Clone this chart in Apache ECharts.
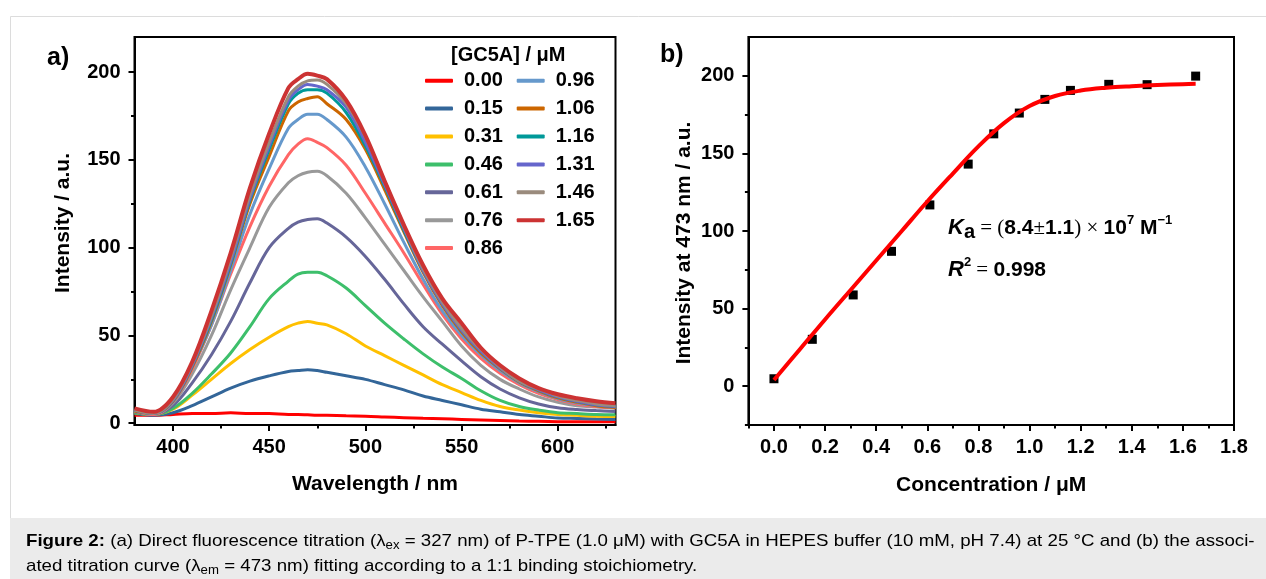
<!DOCTYPE html>
<html><head><meta charset="utf-8">
<style>html,body{margin:0;padding:0;background:#fff}#c{width:1266px;height:579px}</style>
<script src="https://cdn.jsdelivr.net/npm/echarts@6.0.0/dist/echarts.min.js"></script>
</head><body><div id="c"></div>
<script>
// ---------------- DATA ----------------
const wavelengths = [380,390,400,410,420,430,440,450,460,465,470,475,480,490,500,510,520,530,540,550,560,570,580,590,600,610,620,630];
const seriesNames = ['0.00','0.15','0.31','0.46','0.61','0.76','0.86','0.96','1.06','1.16','1.31','1.46','1.65'];
const seriesColors = ['#ff0000','#336699','#ffc000','#3dbf6b','#666699','#999999','#ff6666','#6699cc','#cc6600','#009999','#6666cc','#9a8b7d','#cc3333'];
const c000 = [4.5,4.5,5,5.5,5.5,6,5.5,5.5,5,5,4.8,4.6,4.5,4.2,4,3.6,3.2,2.8,2.5,2.2,1.9,1.6,1.3,1.1,0.9,0.8,0.8,0.8];
const c015 = [5.5,4.5,6,10,15,20,24,27,29.5,30,30.5,30,29,27,25,22,19,15.5,13,10.5,8,6.5,5,4,3,2.7,2.4,2.2];
const c031 = [6,5,8,16,25,34,42,49,55,57,58,57,56,51,44,38.5,33,27.5,22,17.5,13,9.5,7.5,6,5,4.5,4,3.8];
const c046 = [6,5,8.5,17,28,40,55,71,81,85,86,86,84,77,67,57,48,39.5,32,25.5,18.5,13,9.5,7.5,6,5.5,5,4.8];
const c061 = [6.5,5,10,23,39,58,80,100,111,114.5,116,116.5,114,106,95,82,68,55,45,35.5,26.5,19.5,14.5,11,8.8,7.8,7.2,6.7];
const c076 = [7,5,11.5,28,50,76,100,123,137,141,143,143.5,141,131,117,102,87,72,58,44,33,25,19.5,15,12,10,9.2,8.6];
const c086 = [7,5,12,31,56,85,112,135,153,159,162,160,157,147,131,114,97,79,62,48,37,28.5,22,17,13.5,11,9.5,8.8];
const c096 = [7,5.5,12,32,56,87,119,145,168,173,176,176,173,163,146,125,103,82,64,50,39,30,23,18,14,11.5,10,9];
const c106 = [7,5.5,12.5,32,58,90,125,152,178,183,185,186,182,173,156,133,109,86,67,52,40,31,23.5,18.5,14.5,12,10,9];
const c116 = [7.5,5.5,13,33,59,91,127,156,182,188,190,190,188,177,158,135,110,87,68,53,41,31.5,24,19,15,12.5,10.5,9.5];
const c131 = [7.5,5.5,13,33,60,92,128,158,184,190,193,192,190,180,160,136,111,87,68,53,41,31.5,24,19,15,12.5,10.5,9.5];
const c146 = [7.5,5.5,13.5,34,61,94,130,160,186,192,195,195.5,193,182,163,138,112,88,69,54,42,32,24,19.5,15.5,13,11,10];
const c165 = [8.5,6.5,15,35,64,97,134,165,191,196,199,198,196,184,164,138,113,90,71,57,43,33,25.5,20,16.5,14.2,12.5,11.4];
const spectra = [c000,c015,c031,c046,c061,c076,c086,c096,c106,c116,c131,c146,c165];

const concentrations = [0,0.15,0.31,0.46,0.61,0.76,0.86,0.96,1.06,1.16,1.31,1.46,1.65];
const intensity473 = [4.8,30.2,58.8,86.9,116.8,143.1,162.6,176,184.8,190.6,194.5,194.3,199.8];
const fitX = [0,0.1,0.2,0.3,0.4,0.5,0.6,0.7,0.8,0.9,1.0,1.1,1.2,1.3,1.4,1.5,1.6,1.65];
const fitY = [4,23.5,43,62,81,100,119,137,154.5,169.5,180.5,187,190.5,192.3,193.3,194,194.6,194.8];

const wlMajor = [400,450,500,550,600];
const wlMinor = [425,475,525,575,625];
const intMajorA = [0,50,100,150,200];
const intMinorA = [25,75,125,175];
const concMajor = [0,0.2,0.4,0.6,0.8,1.0,1.2,1.4,1.6,1.8];
const concMinor = [-0.1,0.1,0.3,0.5,0.7,0.9,1.1,1.3,1.5,1.7];
const intMajorB = [0,50,100,150,200];
const intMinorB = [-25,25,75,125,175];

// ---------------- STYLE ----------------
const FF = 'Liberation Sans, Arial, sans-serif';
const lblStyle = {fontFamily: FF, fontWeight: 'bold', fontSize: 20, color: '#000'};
const blk = {color: '#000', width: 2};

function majorAxis(gridIndex, min, max, vals, isX, fmt) {
  return {
    gridIndex, type: 'value', min, max,
    position: isX ? 'bottom' : 'left',
    axisLine: {show: true, onZero: false, lineStyle: blk},
    axisTick: {show: true, inside: false, length: 6, customValues: vals, lineStyle: blk},
    axisLabel: Object.assign({show: true, customValues: vals, margin: isX ? 12 : 14,
      formatter: fmt || (v => String(v))}, lblStyle),
    splitLine: {show: false}, minorTick: {show: false}
  };
}
function minorAxis(gridIndex, min, max, vals, isX) {
  return {
    gridIndex, type: 'value', min, max,
    position: isX ? 'bottom' : 'left',
    axisLine: {show: false, onZero: false},
    axisTick: {show: true, inside: false, length: 3.5, customValues: vals, lineStyle: blk},
    axisLabel: {show: false},
    splitLine: {show: false}
  };
}

const xAxes = [
  Object.assign(majorAxis(0, 380, 630, wlMajor, true), {
    name: 'Wavelength / nm', nameLocation: 'middle', nameGap: 49,
    nameTextStyle: {fontFamily: FF, fontWeight: 'bold', fontSize: 21, color: '#000'}}),
  minorAxis(0, 380, 630, wlMinor, true),
  Object.assign(majorAxis(1, -0.1, 1.8, concMajor, true, v => v.toFixed(1)), {
    name: 'Concentration / μM', nameLocation: 'middle', nameGap: 50,
    nameTextStyle: {fontFamily: FF, fontWeight: 'bold', fontSize: 21, color: '#000'}}),
  minorAxis(1, -0.1, 1.8, concMinor, true)
];
const yAxes = [
  majorAxis(0, -1, 220, intMajorA, false),
  minorAxis(0, -1, 220, intMinorA, false),
  majorAxis(1, -25, 225, intMajorB, false),
  minorAxis(1, -25, 225, intMinorB, false)
];

const series = spectra.map((arr, i) => ({
  name: seriesNames[i], type: 'line', xAxisIndex: 0, yAxisIndex: 0,
  data: wavelengths.map((w, j) => [w, arr[j]]),
  showSymbol: false, smooth: 0.35, color: seriesColors[i],
  lineStyle: {width: i === 12 ? 4 : 3, color: seriesColors[i]}, z: 2 + i * 0.01, silent: true
}));
series.push({
  name: 'data', type: 'scatter', xAxisIndex: 2, yAxisIndex: 2,
  data: concentrations.map((c, j) => [c, intensity473[j]]),
  symbol: 'rect', symbolSize: 9, itemStyle: {color: '#000', opacity: 1}, z: 3, silent: true
});
series.push({
  name: 'fit', type: 'line', xAxisIndex: 2, yAxisIndex: 2,
  data: fitX.map((c, j) => [c, fitY[j]]),
  showSymbol: false, smooth: 0.4, lineStyle: {width: 4, color: '#ff0000'}, z: 4, silent: true
});

const legendBase = {
  orient: 'vertical', top: 70.7, itemWidth: 28, itemHeight: 4, itemGap: 7.9,
  icon: 'roundRect', selectedMode: false, padding: 0,
  textStyle: {fontFamily: FF, fontWeight: 'bold', fontSize: 20, color: '#000', lineHeight: 20, padding: [0,0,0,6]}
};

const capN = {fontFamily: FF, fontSize: 17, color: '#222', lineHeight: 22, verticalAlign: 'middle'};
const capB = Object.assign({}, capN, {fontWeight: 'bold'});
const capS = {fontFamily: FF, fontSize: 12, color: '#222', lineHeight: 22, verticalAlign: 'bottom'};
const capScale = 1.10;

const annN = {fontFamily: FF, fontWeight: 'bold', fontSize: 21, color: '#000', lineHeight: 28, verticalAlign: 'middle'};
const annK = Object.assign({}, annN, {fontStyle: 'italic', fontSize: 22});
const annSub = Object.assign({}, annN, {fontSize: 20, lineHeight: 22, verticalAlign: 'bottom'});
const annSerif = {fontFamily: 'Liberation Serif, serif', fontSize: 21, color: '#000', lineHeight: 28, verticalAlign: 'middle'};
const annSup = {fontFamily: FF, fontWeight: 'bold', fontSize: 13, color: '#000', lineHeight: 14, verticalAlign: 'top'};

const graphic = [
  {type: 'rect', shape: {x: 10.5, y: 16.5, width: 1300, height: 502}, style: {fill: 'none', stroke: '#dcdcdc', lineWidth: 1}, silent: true},
  {type: 'rect', shape: {x: 10, y: 518, width: 1260, height: 61}, style: {fill: '#ebebeb'}, silent: true},
  {type: 'text', x: 47, y: 58, style: {text: 'a)', font: 'bold 25px ' + FF, fill: '#000', textVerticalAlign: 'middle'}},
  {type: 'text', x: 660, y: 55, style: {text: 'b)', font: 'bold 25px ' + FF, fill: '#000', textVerticalAlign: 'middle'}},
  {type: 'text', x: 451, y: 55, style: {text: '[GC5A] / μM', font: 'bold 20px ' + FF, fill: '#000', textVerticalAlign: 'middle'}},
  {type: 'text', x: 63, y: 223, rotation: Math.PI / 2, style: {text: 'Intensity / a.u.', font: 'bold 21px ' + FF, fill: '#000', textAlign: 'center', textVerticalAlign: 'middle'}},
  {type: 'text', x: 684, y: 243, rotation: Math.PI / 2, style: {text: 'Intensity at 473 nm / a.u.', font: 'bold 21px ' + FF, fill: '#000', textAlign: 'center', textVerticalAlign: 'middle'}},
  {type: 'text', x: 948, y: 228, style: {
    text: '{K|K}{sub|a}{s| = (}{b|8.4}{s|±}{b|1.1}{s|) × }{b|10}{sup|7}{b| M}{sup|−1}',
    textVerticalAlign: 'middle',
    rich: {K: annK, sub: annSub, s: annSerif, b: annN, sup: annSup}}},
  {type: 'text', x: 948, y: 270, style: {
    text: '{K|R}{sup|2}{s| = }{b|0.998}',
    textVerticalAlign: 'middle',
    rich: {K: annK, s: annSerif, b: annN, sup: annSup}}},
  {type: 'text', x: 26, y: 541, scaleX: capScale, style: {
    text: '{b|Figure 2:}{n| (a) Direct fluorescence titration (λ}{s|ex}{n| = 327 nm) of P-TPE (1.0 μM) with GC5A in HEPES buffer (10 mM, pH 7.4) at 25 °C and (b) the associ-}',
    textVerticalAlign: 'middle', rich: {b: capB, n: capN, s: capS}}},
  {type: 'text', x: 26, y: 566, scaleX: capScale, style: {
    text: '{n|ated titration curve (λ}{s|em}{n| = 473 nm) fitting according to a 1:1 binding stoichiometry.}',
    textVerticalAlign: 'middle', rich: {n: capN, s: capS}}}
];

const option = {
  animation: false,
  backgroundColor: '#ffffff',
  grid: [
    {left: 134.5, top: 37, width: 481, height: 388, show: true, borderColor: '#000', borderWidth: 2, backgroundColor: 'transparent', containLabel: false, outerBoundsMode: 'none'},
    {left: 748.4, top: 37, width: 485.6, height: 388, show: true, borderColor: '#000', borderWidth: 2, backgroundColor: 'transparent', containLabel: false, outerBoundsMode: 'none'}
  ],
  xAxis: xAxes,
  yAxis: yAxes,
  legend: [
    Object.assign({}, legendBase, {left: 425, data: seriesNames.slice(0, 7)}),
    Object.assign({}, legendBase, {left: 516.7, data: seriesNames.slice(7)})
  ],
  graphic: graphic,
  series: series
};

const chart = echarts.init(document.getElementById('c'), null, {renderer: 'canvas'});
chart.setOption(option);
</script>
</body></html>
